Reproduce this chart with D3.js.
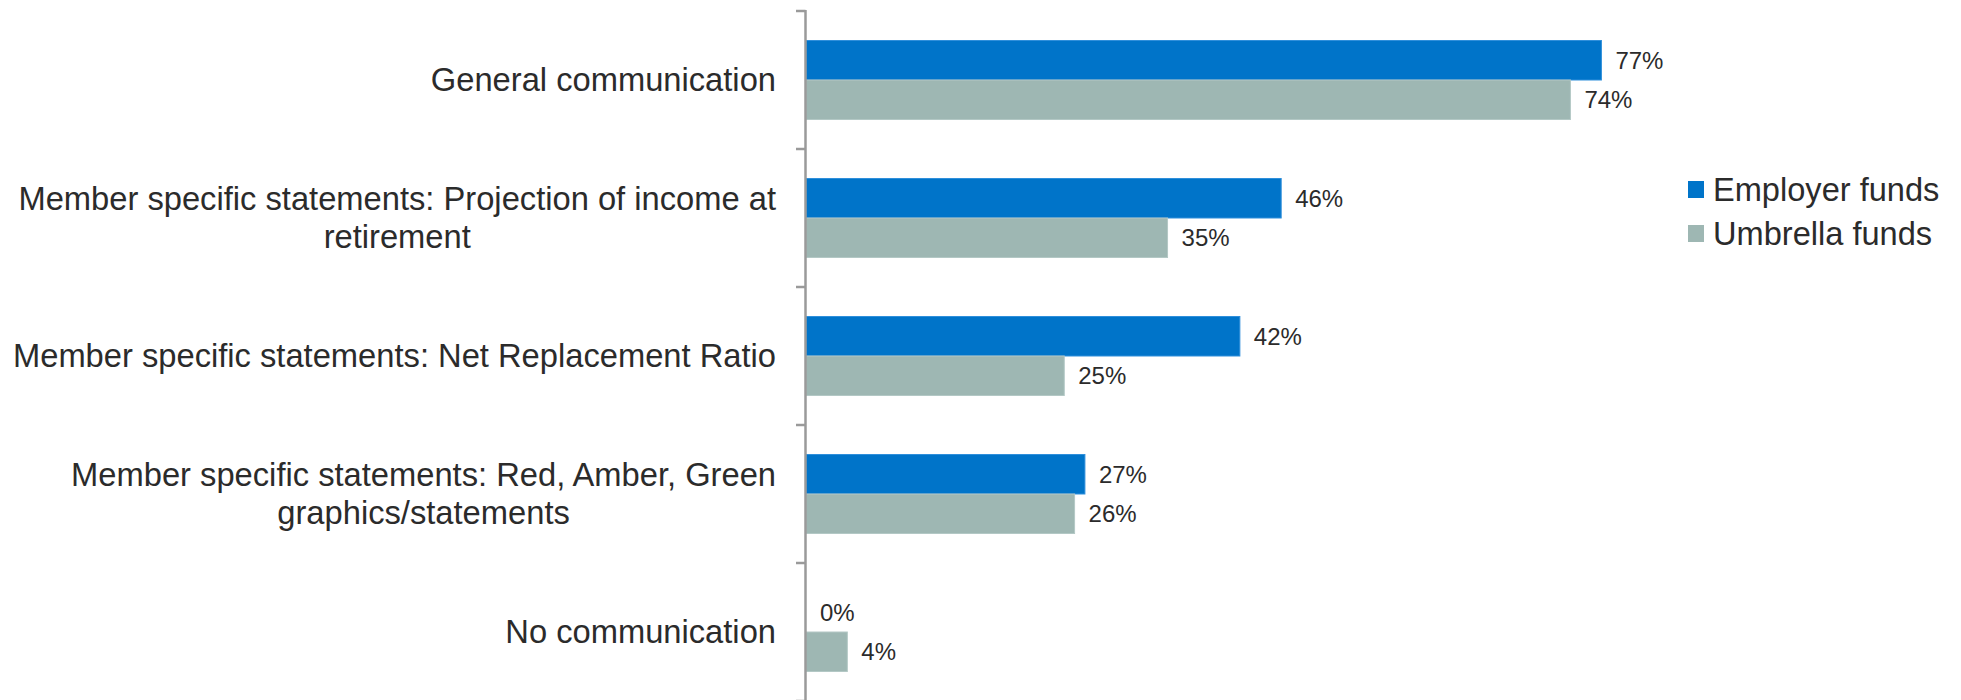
<!DOCTYPE html>
<html>
<head>
<meta charset="utf-8">
<script src="https://cdn.jsdelivr.net/npm/d3@7"></script>
<style>
  html, body { margin: 0; padding: 0; background: #ffffff; }
  svg { display: block; font-family: "Liberation Sans", Arial, sans-serif; }
</style>
</head>
<body>
<svg id="chart" width="1961" height="700"></svg>
<script>
// Categories (each entry is a list of text lines) and series values in percent
const categories = [
  ["General communication"],
  ["Member specific statements: Projection of income at", "retirement"],
  ["Member specific statements: Net Replacement Ratio"],
  ["Member specific statements: Red, Amber, Green", "graphics/statements"],
  ["No communication"]
];
const seriesNames = ["Employer funds", "Umbrella funds"];
const employerFunds = [77, 46, 42, 27, 0];
const umbrellaFunds = [74, 35, 25, 26, 4];
const seriesColors = ["#0074c9", "#9eb7b3"];
const seriesEdges = ["#2f8fdb", "#b3c8c5"];

const rows = categories.map((c, i) => ({
  key: i,
  lines: c,
  values: [employerFunds[i], umbrellaFunds[i]]
}));

const svg = d3.select("#chart");
const plotLeft = 806, plotRight = 1839, plotTop = 11, plotBottom = 701;

const x = d3.scaleLinear().domain([0, 100]).range([plotLeft, plotRight]);
const y0 = d3.scaleBand().domain(rows.map(d => d.key)).range([plotTop, plotBottom]).padding(0);
const y1 = d3.scaleBand().domain(seriesNames).range([0, y0.bandwidth()])
  .paddingInner(0).paddingOuter(0.747);

// Bars
const groups = svg.append("g").selectAll("g").data(rows).join("g")
  .attr("transform", d => `translate(0,${y0(d.key)})`);

groups.selectAll("rect")
  .data(d => d.values.map((v, s) => ({ v, s })))
  .join("rect")
  .attr("x", x(0))
  .attr("y", d => y1(seriesNames[d.s]))
  .attr("width", d => x(d.v) - x(0))
  .attr("height", y1.bandwidth())
  .attr("fill", d => seriesColors[d.s])
  .attr("stroke", d => d.v > 0 ? seriesEdges[d.s] : "none")
  .attr("stroke-width", 1);

// Value labels
groups.selectAll("text.val")
  .data(d => d.values.map((v, s) => ({ v, s })))
  .join("text")
  .attr("class", "val")
  .attr("x", d => x(d.v) + 14)
  .attr("y", d => y1(seriesNames[d.s]) + y1.bandwidth() / 2)
  .attr("dy", "0.36em")
  .attr("font-size", 24)
  .attr("fill", "#2b2b2b")
  .text(d => d.v + "%");

// Vertical category axis with ticks at band boundaries
const axisColor = "#9a9a9a";
const axisG = svg.append("g");
axisG.append("line")
  .attr("x1", plotLeft - 0.5).attr("x2", plotLeft - 0.5)
  .attr("y1", plotTop - 1).attr("y2", plotBottom)
  .attr("stroke", axisColor).attr("stroke-width", 2.5);
const boundaries = rows.map(d => y0(d.key)).concat([plotBottom]);
axisG.selectAll("line.tick").data(boundaries).join("line")
  .attr("class", "tick")
  .attr("x1", plotLeft - 10).attr("x2", plotLeft - 0.5)
  .attr("y1", d => d).attr("y2", d => d)
  .attr("stroke", axisColor).attr("stroke-width", 2.5);

// Category labels: block right-aligned to the axis, lines centred within the block
const labelRight = 776, lineHeight = 38;
const labels = svg.append("g").selectAll("g").data(rows).join("g");
labels.each(function (d) {
  const g = d3.select(this);
  const cy = y0(d.key) + y0.bandwidth() / 2;
  const n = d.lines.length;
  const texts = d.lines.map((line, i) => g.append("text")
    .attr("font-size", 32.7)
    .attr("fill", "#2b2b2b")
    .attr("y", cy + (i - (n - 1) / 2) * lineHeight)
    .attr("dy", "0.35em")
    .text(line));
  const maxW = d3.max(texts, t => t.node().getComputedTextLength());
  const cx = labelRight - maxW / 2;
  texts.forEach(t => t.attr("x", cx).attr("text-anchor", "middle"));
});

// Legend
const legend = svg.append("g").selectAll("g").data(seriesNames).join("g")
  .attr("transform", (d, i) => `translate(1688,${189.5 + i * 44})`);
legend.append("rect")
  .attr("x", 0).attr("y", -8.5).attr("width", 16).attr("height", 17)
  .attr("fill", (d, i) => seriesColors[i]);
legend.append("text")
  .attr("x", 25).attr("y", 0).attr("dy", "0.35em")
  .attr("font-size", 32.6).attr("fill", "#2b2b2b")
  .text(d => d);
</script>
</body>
</html>
